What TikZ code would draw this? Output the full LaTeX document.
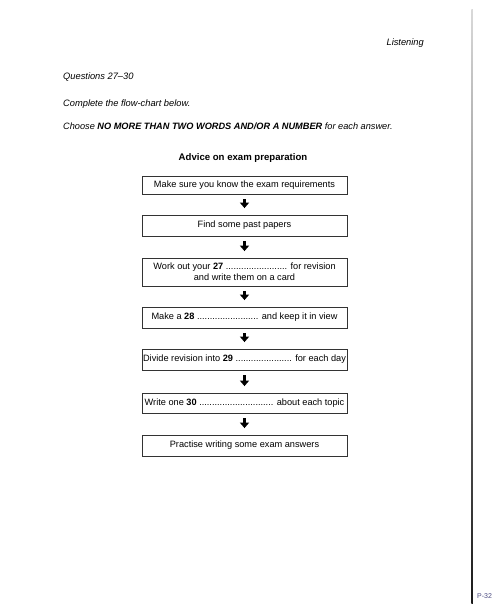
\documentclass[tikz,border=0pt]{standalone}
\usepackage{fontspec}
\setmainfont{Liberation Sans}
\usetikzlibrary{arrows.meta}

\tikzset{
  stepbox/.style={draw=black!80, line width=0.8pt, minimum width=205pt, inner xsep=1pt,
    inner ysep=2pt, minimum height=21pt, align=center, font=\fontsize{9.2}{11}\selectfont},
  flowarrow/.style={line width=2.6pt, -{Triangle[width=9pt,length=5.5pt]},
    shorten <=5pt, shorten >=6.5pt},
  pagetext/.style={anchor=west, inner sep=0pt, font=\fontsize{9.3}{11}\selectfont\itshape}
}

\begin{document}
\begin{tikzpicture}[x=1pt,y=-1pt]
\useasboundingbox (0,0) rectangle (500,604);
\fill[white] (0,0) rectangle (500,604);

% Page header and instructions
\node[pagetext, anchor=east] (sect) at (424,43) {Listening};
\node[pagetext] (quest) at (63,77) {Questions 27--30};
\node[pagetext] (compl) at (63,104) {Complete the flow-chart below.};
\node[pagetext, font=\fontsize{9.2}{11}\selectfont\itshape] (choose) at (63,126) {Choose \textbf{NO MORE THAN TWO WORDS AND/OR A NUMBER} for each answer.};

% Title
\node[font=\fontsize{9.6}{11}\selectfont\bfseries] (title) at (243,158) {Advice on exam preparation};

% Flow-chart boxes
\node[stepbox, minimum height=18pt] (b1) at (244.5,185) {Make sure you know the exam requirements};
\node[stepbox] (b2) at (244.5,225.5) {Find some past papers};
\node[stepbox, minimum height=28pt] (b3) at (244.5,272) {Work out your \textbf{27} ........................ for revision\\ and write them on a card};
\node[stepbox] (b4) at (244.5,317.5) {Make a \textbf{28} ........................ and keep it in view};
\node[stepbox] (b5) at (244.5,359.5) {Divide revision into \textbf{29} ...................... for each day};
\node[stepbox, minimum height=20pt] (b6) at (244.5,403) {Write one \textbf{30} ............................. about each topic};
\node[stepbox] (b7) at (244.5,445.5) {Practise writing some exam answers};

% Arrows
\foreach \a/\b in {b1/b2, b2/b3, b3/b4, b4/b5, b5/b6, b6/b7}
  \draw[flowarrow] (\a) -- (\b);

% Page edge and number
\shade[top color=black!15, bottom color=black!90] (471.3,10) rectangle (472.8,604);
\node[anchor=west, inner sep=0pt, text=blue!30!black!70, font=\fontsize{7}{8}\selectfont] (pnum) at (477,596) {P-32};

\end{tikzpicture}
\end{document}
